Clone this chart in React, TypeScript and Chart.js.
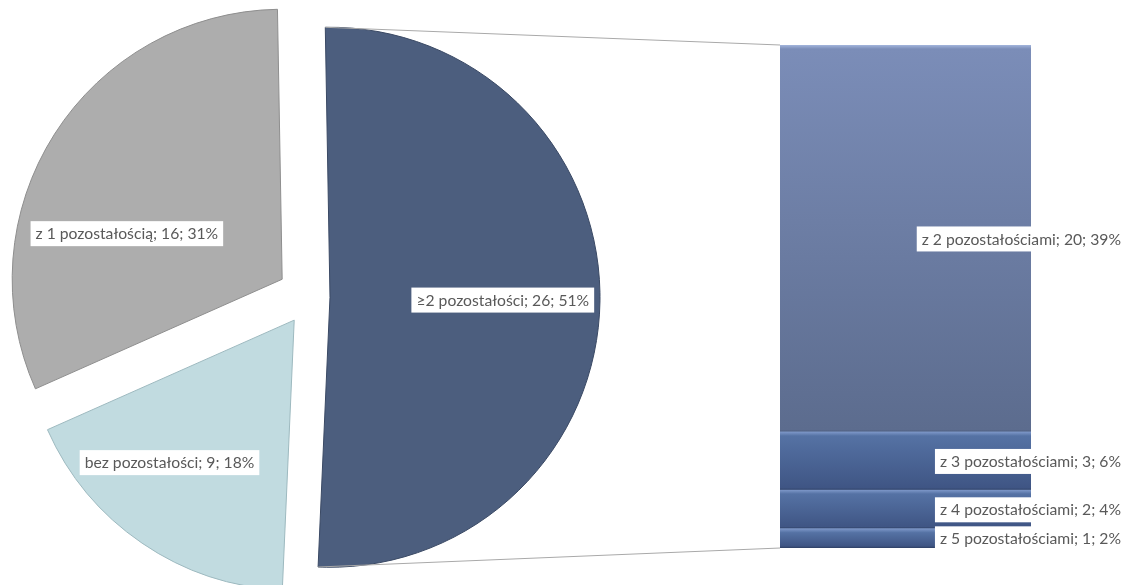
import React, { useEffect, useRef } from 'react';
import { Chart, registerables } from 'chart.js';

Chart.register(...registerables);

// ---- data ----
const PIE_LABELS = ['≥2 pozostałości', 'bez pozostałości', 'z 1 pozostałością'];
const PIE_VALUES = [26, 9, 16];
const BAR_LABELS = ['z 2 pozostałościami', 'z 3 pozostałościami', 'z 4 pozostałościami', 'z 5 pozostałościami'];
const BAR_VALUES = [20, 3, 2, 1];

// ---- style ----
const W = 1124;
const H = 585;
const PIE_COLORS = ['#4c5e7e', '#c1dbe0', '#adadad'];
const PIE_BORDERS = ['#3a4964', '#9db9bf', '#8e8e8e'];
const EXPLODE = [20, 28, 33];
const ROTATION = -1;
const PIE_RADIUS = 270;
const LABEL_PLACE: [number, number][] = [[0, 0.64], [7, 0.7], [-16, 0.6]];
const FONT = '15.7px Lato, "Noto Sans", sans-serif';
const TEXT_COLOR = '#595959';
const BAR_GRAD: [string, string, string, string][] = [
  ['#a3b5dc', '#7b8db8', '#5c6c8e', '#4a5a7a'],
  ['#7d97c8', '#5572a4', '#3f5584', '#2e3f63'],
  ['#7d97c8', '#5572a4', '#3f5584', '#2e3f63'],
  ['#7d97c8', '#5572a4', '#3f5584', '#2e3f63'],
];

const TOTAL = PIE_VALUES.reduce((a, b) => a + b, 0);
const pct = (v: number) => Math.round((v / TOTAL) * 100) + '%';

function drawLabel(ctx: CanvasRenderingContext2D, text: string, x: number, y: number, align: 'center' | 'right') {
  ctx.save();
  ctx.font = FONT;
  const tw = ctx.measureText(text).width;
  const left = align === 'center' ? x - tw / 2 : x - tw;
  ctx.fillStyle = '#ffffff';
  ctx.fillRect(left - 5, y - 12, tw + (align === 'center' ? 10 : 14), 25);
  ctx.fillStyle = TEXT_COLOR;
  ctx.textBaseline = 'middle';
  ctx.textAlign = 'left';
  ctx.fillText(text, left, y + 1);
  ctx.restore();
}

function arcGeom(arc: any, i: number) {
  const p = arc.getProps(['x', 'y', 'startAngle', 'endAngle', 'outerRadius'], true);
  const mid = (p.startAngle + p.endAngle) / 2;
  return {
    ...p,
    mid,
    cx: p.x + Math.cos(mid) * EXPLODE[i],
    cy: p.y + Math.sin(mid) * EXPLODE[i],
  };
}

export default function App() {
  const pieRef = useRef<HTMLCanvasElement>(null);
  const barRef = useRef<HTMLCanvasElement>(null);

  useEffect(() => {
    const explodePlugin = {
      id: 'explode',
      beforeDatasetsDraw(chart: any) {
        const ctx = chart.ctx;
        const meta = chart.getDatasetMeta(0);
        meta.data.forEach((arc: any, i: number) => {
          const g = arcGeom(arc, i);
          ctx.save();
          ctx.translate(g.cx - g.x, g.cy - g.y);
          arc.draw(ctx);
          ctx.restore();
        });
        return false;
      },
    };
    const pieLabelPlugin = {
      id: 'pieLabels',
      afterDraw(chart: any) {
        const ctx = chart.ctx;
        const meta = chart.getDatasetMeta(0);
        meta.data.forEach((arc: any, i: number) => {
          const g = arcGeom(arc, i);
          const a = g.mid + (LABEL_PLACE[i][0] * Math.PI) / 180;
          const r = g.outerRadius * LABEL_PLACE[i][1];
          const text = `${PIE_LABELS[i]}; ${PIE_VALUES[i]}; ${pct(PIE_VALUES[i])}`;
          drawLabel(ctx, text, g.cx + Math.cos(a) * r, g.cy + Math.sin(a) * r, 'center');
        });
      },
    };

    const pie = new Chart(pieRef.current!, {
      type: 'pie',
      data: {
        labels: PIE_LABELS,
        datasets: [
          {
            data: PIE_VALUES,
            backgroundColor: PIE_COLORS,
            borderColor: PIE_BORDERS,
            borderWidth: 1,
          },
        ],
      },
      options: {
        animation: false,
        responsive: false,
        rotation: ROTATION,
        radius: PIE_RADIUS,
        layout: { padding: { left: 30, right: 534, top: 17, bottom: 8 } },
        plugins: { legend: { display: false }, tooltip: { enabled: false } },
      } as any,
      plugins: [explodePlugin, pieLabelPlugin],
    });

    const barMax = BAR_VALUES.reduce((a, b) => a + b, 0);
    const order = BAR_VALUES.map((_, i) => i).reverse();

    const connectorPlugin = {
      id: 'connectors',
      afterDraw(chart: any) {
        const ctx = chart.ctx;
        const arc = pie.getDatasetMeta(0).data[0];
        const g = arcGeom(arc, 0);
        const R = g.outerRadius;
        const topPt = { x: g.cx + Math.cos(g.startAngle) * R, y: g.cy + Math.sin(g.startAngle) * R };
        const botPt = { x: g.cx + Math.cos(g.endAngle) * R, y: g.cy + Math.sin(g.endAngle) * R };
        const topIdx = order.indexOf(0);
        const botIdx = order.indexOf(BAR_VALUES.length - 1);
        const topEl: any = chart.getDatasetMeta(topIdx).data[0];
        const botEl: any = chart.getDatasetMeta(botIdx).data[0];
        const tp = topEl.getProps(['x', 'y', 'width'], true);
        const bp = botEl.getProps(['x', 'base', 'width'], true);
        ctx.save();
        ctx.strokeStyle = '#a9a9a9';
        ctx.lineWidth = 1;
        ctx.beginPath();
        ctx.moveTo(topPt.x, topPt.y);
        ctx.lineTo(tp.x - tp.width / 2, tp.y);
        ctx.moveTo(botPt.x, botPt.y);
        ctx.lineTo(bp.x - bp.width / 2, bp.base);
        ctx.stroke();
        ctx.restore();

        // bar labels
        order.forEach((orig, di) => {
          const el: any = chart.getDatasetMeta(di).data[0];
          const p = el.getProps(['y', 'base'], true);
          const cy = (p.y + p.base) / 2;
          const text = `${BAR_LABELS[orig]}; ${BAR_VALUES[orig]}; ${pct(BAR_VALUES[orig])}`;
          drawLabel(ctx, text, chart.width - 3, cy, 'right');
        });
      },
    };

    const bar = new Chart(barRef.current!, {
      type: 'bar',
      data: {
        labels: [''],
        datasets: order.map((orig) => ({
          label: BAR_LABELS[orig],
          data: [BAR_VALUES[orig]],
          barPercentage: 1,
          categoryPercentage: 1,
          borderWidth: 0,
          backgroundColor: (c: any) => {
            const chart = c.chart;
            const { chartArea, scales } = chart;
            const cols = BAR_GRAD[orig];
            if (!chartArea || !scales.y) return cols[1];
            let below = 0;
            for (let j = orig + 1; j < BAR_VALUES.length; j++) below += BAR_VALUES[j];
            const y0 = scales.y.getPixelForValue(below + BAR_VALUES[orig]);
            const y1 = scales.y.getPixelForValue(below);
            const h = Math.max(1, y1 - y0);
            const gr = chart.ctx.createLinearGradient(0, y0, 0, y1);
            gr.addColorStop(0, cols[0]);
            gr.addColorStop(Math.min(0.45, 4 / h), cols[1]);
            gr.addColorStop(Math.max(0.55, 1 - 2 / h), cols[2]);
            gr.addColorStop(1, cols[3]);
            return gr;
          },
        })),
      },
      options: {
        animation: false,
        responsive: false,
        layout: { padding: { left: 780, right: 93, top: 45, bottom: 37 } },
        scales: {
          x: { display: false, stacked: true },
          y: { display: false, stacked: true, min: 0, max: barMax },
        },
        plugins: { legend: { display: false }, tooltip: { enabled: false } },
      } as any,
      plugins: [connectorPlugin],
    });

    return () => {
      bar.destroy();
      pie.destroy();
    };
  }, []);

  const canvasStyle: React.CSSProperties = { position: 'absolute', left: 0, top: 0, width: W, height: H };
  return (
    <div style={{ position: 'fixed', left: 0, top: 0, width: W, height: H, background: '#ffffff', overflow: 'hidden' }}>
      <canvas ref={pieRef} width={W} height={H} style={canvasStyle} />
      <canvas ref={barRef} width={W} height={H} style={canvasStyle} />
    </div>
  );
}
